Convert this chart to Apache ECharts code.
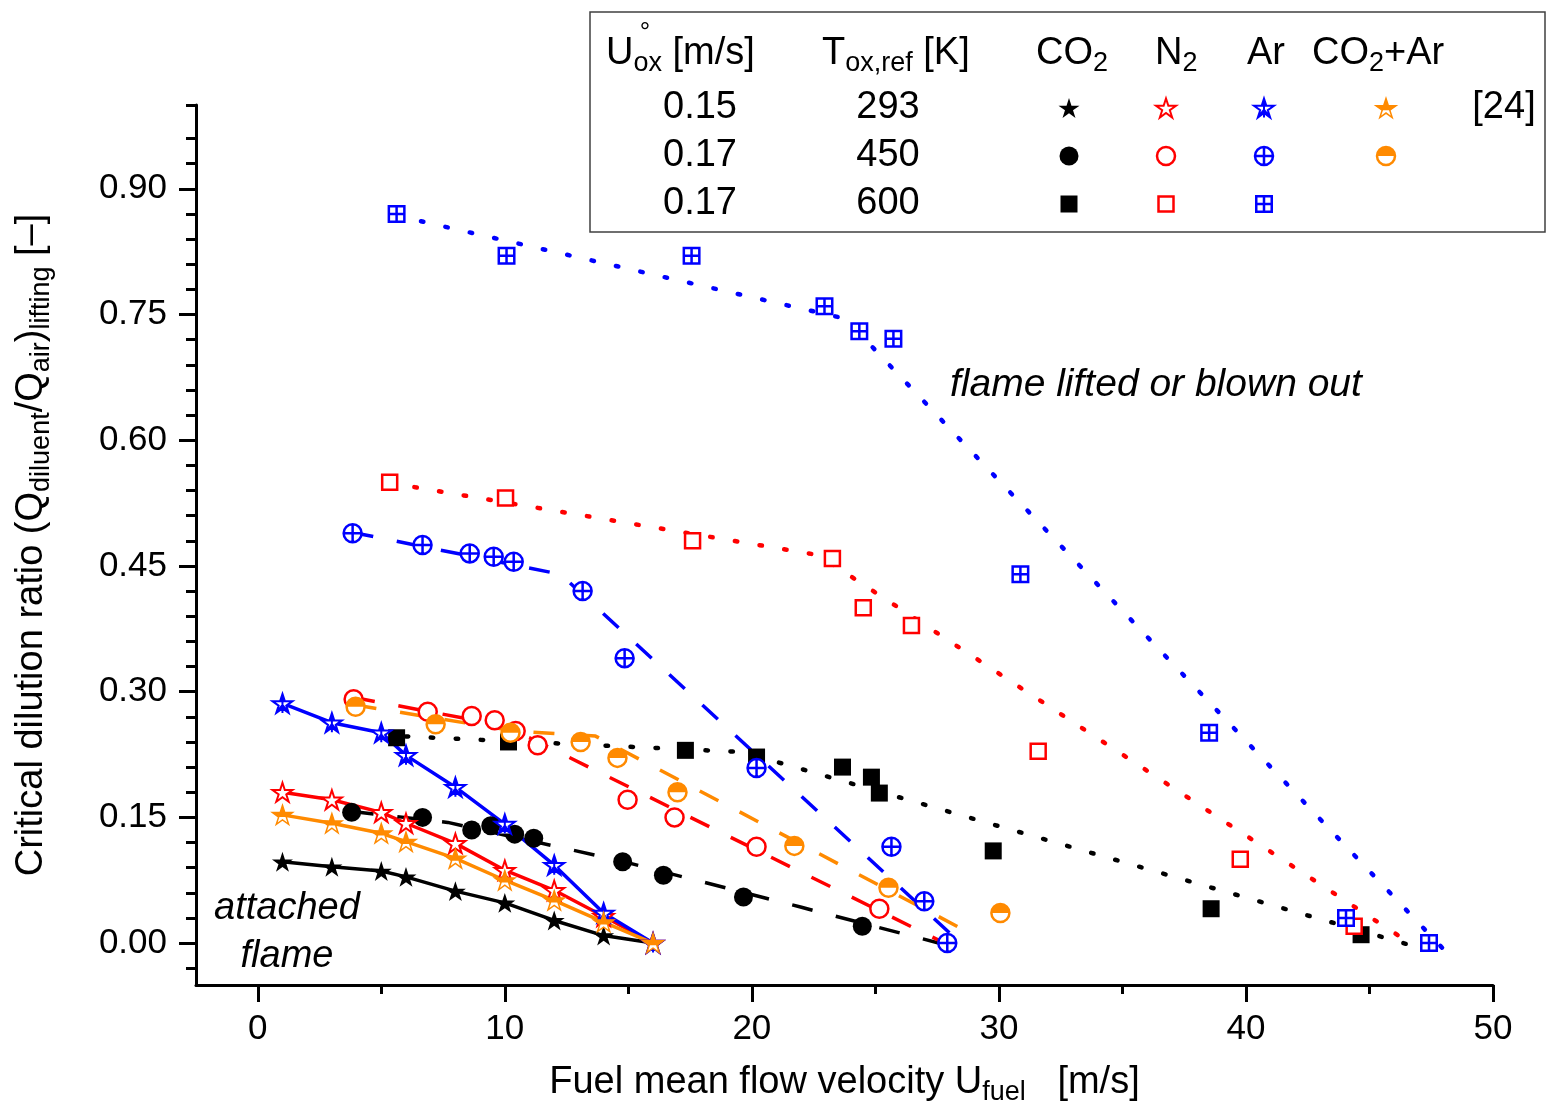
<!DOCTYPE html>
<html>
<head>
<meta charset="utf-8">
<script src="https://cdn.jsdelivr.net/npm/echarts@6.0.0/dist/echarts.min.js"></script>
<style>
  html, body { margin: 0; padding: 0; background: #fff; }
  #chart { width: 1546px; height: 1110px; }
</style>
</head>
<body>
<div id="chart"></div>
<script>
// ---------------- data ----------------
// T_ox,ref = 293 K  (U_ox = 0.15 m/s), data of [24]
const X_293      = [1, 3, 5, 6, 8, 10, 12, 14, 16];
const CO2_293    = [0.097, 0.091, 0.086, 0.079, 0.062, 0.048, 0.027, 0.009, 0.000];
const N2_293     = [0.180, 0.171, 0.156, 0.143, 0.119, 0.087, 0.063, 0.032, 0.000];
const AR_293     = [0.286, 0.263, 0.251, 0.224, 0.186, 0.142, 0.093, 0.036, 0.000];
const CO2AR_293  = [0.153, 0.143, 0.131, 0.121, 0.101, 0.075, 0.051, 0.025, 0.000];

// T_ox,ref = 450 K
const CO2_450_X  = [3.80, 6.67, 8.66, 9.43, 10.40, 11.17, 14.77, 16.42, 19.66, 24.47];
const CO2_450_Y  = [0.156, 0.150, 0.135, 0.140, 0.130, 0.125, 0.097, 0.081, 0.055, 0.020];
const N2_450_X   = [3.88, 6.88, 8.66, 9.59, 10.44, 11.33, 14.97, 16.87, 20.19, 25.16];
const N2_450_Y   = [0.291, 0.276, 0.271, 0.266, 0.253, 0.236, 0.171, 0.150, 0.115, 0.041];
const AR_450_X   = [3.84, 6.67, 8.58, 9.55, 10.36, 13.15, 14.85, 20.19, 25.65, 26.98, 27.91];
const AR_450_Y   = [0.489, 0.475, 0.465, 0.461, 0.455, 0.420, 0.340, 0.209, 0.115, 0.050, 0.000];
const CO2AR_450_X = [3.96, 7.20, 10.23, 13.07, 14.56, 16.99, 21.72, 25.53, 30.06];
const CO2AR_450_Y = [0.282, 0.261, 0.251, 0.240, 0.221, 0.180, 0.116, 0.066, 0.036];

// T_ox,ref = 600 K
const CO2_600_X  = [5.62, 10.15, 17.31, 20.19, 23.67, 24.84, 25.16, 29.77, 38.59, 44.66];
const CO2_600_Y  = [0.245, 0.240, 0.230, 0.222, 0.210, 0.198, 0.179, 0.110, 0.041, 0.010];
const N2_600_X   = [5.34, 10.03, 17.60, 23.26, 24.51, 26.46, 31.59, 39.77, 44.38];
const N2_600_Y   = [0.550, 0.531, 0.480, 0.459, 0.400, 0.379, 0.229, 0.100, 0.020];
const AR_600_X   = [5.62, 10.07, 17.56, 22.94, 24.35, 25.73, 30.87, 38.51, 44.05, 47.41];
const AR_600_Y   = [0.870, 0.820, 0.820, 0.760, 0.730, 0.721, 0.440, 0.251, 0.030, 0.000];

// trend lines drawn in the reference (nodes)
const CO2_450_FIT_X   = [3.84, 7.69, 14.57, 21.97, 27.83];
const CO2_450_FIT_Y   = [0.157, 0.144, 0.099, 0.043, -0.002];
const N2_450_FIT_X    = [3.90, 9.50, 11.00, 27.80];
const N2_450_FIT_Y    = [0.293, 0.262, 0.245, 0.000];
const AR_450_FIT_X    = [3.84, 10.76, 12.26, 28.52];
const AR_450_FIT_Y    = [0.490, 0.449, 0.440, -0.002];
const CO2AR_450_FIT_X = [3.96, 10.44, 13.67, 28.76];
const CO2AR_450_FIT_Y = [0.284, 0.253, 0.247, 0.013];
const CO2_600_FIT_X   = [4.98, 19.62, 46.84];
const CO2_600_FIT_Y   = [0.248, 0.228, -0.004];
const N2_600_FIT_X    = [5.34, 22.69, 46.84];
const N2_600_FIT_Y    = [0.549, 0.463, -0.004];
const AR_600_FIT_X    = [5.62, 23.79, 48.34];
const AR_600_FIT_Y    = [0.868, 0.745, -0.018];

// axis ticks
const X_MAJOR = [0, 10, 20, 30, 40, 50];
const X_MINOR = [5, 15, 25, 35, 45];
const Y_MAJOR = [0, 0.15, 0.30, 0.45, 0.60, 0.75, 0.90];
const Y_MINOR = [-0.03, 0.03, 0.06, 0.09, 0.12, 0.18, 0.21, 0.24, 0.27, 0.33, 0.36, 0.39, 0.42,
                 0.48, 0.51, 0.54, 0.57, 0.63, 0.66, 0.69, 0.72, 0.78, 0.81, 0.84, 0.87, 0.93, 0.96, 1.0];

// legend table text
const LEG_UOX  = ['0.15', '0.17', '0.17'];
const LEG_TOX  = ['293', '450', '600'];

// ---------------- styles ----------------
const FONT = "'Liberation Sans', Arial, Helvetica, sans-serif";
const BLACK = '#000000', RED = '#ff0000', BLUE = '#0000ff', ORANGE = '#ff8a00';

const P_STAR = 'M0,-10L2.245,-3.09L9.511,-3.09L3.633,1.18L5.878,8.09L0,3.82L-5.878,8.09L-3.633,1.18L-9.511,-3.09L-2.245,-3.09Z';
const P_STAR_ASTER = P_STAR + 'M0,-10L0,8.09M-9.511,-3.09L9.511,-3.09M-5.878,8.09L0,0.5L5.878,8.09';
const P_STAR_TOP = 'M-9.511,8.09L-9.511,8.09M0,-10L2.245,-3.09L9.511,-3.09L3.633,1.18L-3.633,1.18L-9.511,-3.09L-2.245,-3.09Z';
const P_CIRC = 'M10,0A10,10,0,1,1,-10,0A10,10,0,1,1,10,0Z';
const P_CPLUS = P_CIRC + 'M-10,0L10,0M0,-10L0,10';
const P_CTOP = 'M-10,10L-10,10M-10,0A10,10,0,0,1,10,0Z';
const P_SPLUS = 'M-10,-10L10,-10L10,10L-10,10ZM-10,0L10,0M0,-10L0,10';

// marker definitions: [symbol, size, fill, stroke, borderWidth]
const M = {
  co2_293:  ['path://' + P_STAR, 21, BLACK, BLACK, 0],
  co2_450:  ['circle', 19, BLACK, BLACK, 0],
  co2_600:  ['rect', 17, BLACK, BLACK, 0],
  n2_293:   ['path://' + P_STAR, 20, '#fff', RED, 2],
  n2_450:   ['circle', 18, '#fff', RED, 2.5],
  n2_600:   ['rect', 15, '#fff', RED, 2.5],
  ar_293:   ['path://' + P_STAR_ASTER, 20, '#fff', BLUE, 2],
  ar_450:   ['path://' + P_CPLUS, 18, '#fff', BLUE, 2.5],
  ar_600:   ['path://' + P_SPLUS, 15.5, '#fff', BLUE, 2.5],
  mix_293a: ['path://' + P_STAR, 20, '#fff', ORANGE, 1.5],
  mix_293b: ['path://' + P_STAR_TOP, 20, ORANGE, ORANGE, 0],
  mix_450a: ['circle', 18, '#fff', ORANGE, 2.5],
  mix_450b: ['path://' + P_CTOP, 18, ORANGE, ORANGE, 0]
};

function pts(xs, ys) { return xs.map((x, i) => [x, ys[i]]); }

function lineS(xs, ys, color, type, width, cap) {
  return {
    type: 'line', data: pts(xs, ys), symbol: 'none', silent: true, z: 2,
    lineStyle: { color: color, width: width, type: type, cap: cap || 'butt' },
    emphasis: { disabled: true }
  };
}
function scat(data, m, z, axisIdx) {
  return {
    type: 'scatter', data: data, symbol: m[0], symbolSize: m[1],
    symbolKeepAspect: true, silent: true, z: z,
    xAxisIndex: axisIdx || 0, yAxisIndex: axisIdx || 0,
    itemStyle: { color: m[2], borderColor: m[3], borderWidth: m[4], opacity: 1 },
    emphasis: { disabled: true }
  };
}
const DASH = [21, 24];
const DOT = [2.5, 22.5];
const LW = 3.5;

const series = [
  lineS(X_293, CO2_293, BLACK, 'solid', LW),
  lineS(X_293, N2_293, RED, 'solid', LW),
  lineS(X_293, AR_293, BLUE, 'solid', LW),
  lineS(X_293, CO2AR_293, ORANGE, 'solid', LW),
  lineS(CO2_450_FIT_X, CO2_450_FIT_Y, BLACK, DASH, LW),
  lineS(N2_450_FIT_X, N2_450_FIT_Y, RED, DASH, LW),
  lineS(AR_450_FIT_X, AR_450_FIT_Y, BLUE, DASH, LW),
  lineS(CO2AR_450_FIT_X, CO2AR_450_FIT_Y, ORANGE, DASH, LW),
  lineS(CO2_600_FIT_X, CO2_600_FIT_Y, BLACK, DOT, 4.5, 'round'),
  lineS(N2_600_FIT_X, N2_600_FIT_Y, RED, DOT, 4.5, 'round'),
  lineS(AR_600_FIT_X, AR_600_FIT_Y, BLUE, DOT, 4.5, 'round'),
  scat(pts(X_293, CO2_293), M.co2_293, 3),
  scat(pts(CO2_450_X, CO2_450_Y), M.co2_450, 3),
  scat(pts(CO2_600_X, CO2_600_Y), M.co2_600, 3),
  scat(pts(X_293, N2_293), M.n2_293, 4),
  scat(pts(N2_450_X, N2_450_Y), M.n2_450, 4),
  scat(pts(N2_600_X, N2_600_Y), M.n2_600, 4),
  scat(pts(X_293, AR_293), M.ar_293, 5),
  scat(pts(AR_450_X, AR_450_Y), M.ar_450, 5),
  scat(pts(AR_600_X, AR_600_Y), M.ar_600, 5),
  scat(pts(X_293, CO2AR_293), M.mix_293a, 6),
  scat(pts(X_293, CO2AR_293), M.mix_293b, 7),
  scat(pts(CO2AR_450_X, CO2AR_450_Y), M.mix_450a, 6),
  scat(pts(CO2AR_450_X, CO2AR_450_Y), M.mix_450b, 7)
];

// ---------------- legend table ----------------
// legend box drawn as a second (hidden) grid in pixel units
const LEG_BOX = { left: 590, top: 12, width: 955, height: 220 };
const LEG_COL = [479, 576, 674, 796];   // symbol column centres inside the box
const LEG_ROW = [96, 144, 192];         // symbol row centres inside the box
const legendMarks = [
  [M.co2_293, 0, 0], [M.n2_293, 1, 0], [M.ar_293, 2, 0], [M.mix_293a, 3, 0], [M.mix_293b, 3, 0],
  [M.co2_450, 0, 1], [M.n2_450, 1, 1], [M.ar_450, 2, 1], [M.mix_450a, 3, 1], [M.mix_450b, 3, 1],
  [M.co2_600, 0, 2], [M.n2_600, 1, 2], [M.ar_600, 2, 2]
];
legendMarks.forEach((e, i) => {
  series.push(scat([[LEG_COL[e[1]], LEG_ROW[e[2]]]], e[0], 20 + i, 2));
});

const RICH = {
  m: { fontSize: 38, lineHeight: 46, verticalAlign: 'middle', fontFamily: FONT, color: '#000' },
  s: { fontSize: 27, lineHeight: 22, verticalAlign: 'bottom', fontFamily: FONT, color: '#000' }
};
const TICK_FONT = 35;

function gText(x, y, text, opts) {
  opts = opts || {};
  const st = {
    text: text, fill: '#000', fontFamily: FONT,
    fontSize: opts.fontSize || 38, fontStyle: opts.italic ? 'italic' : 'normal',
    align: opts.align || 'left', verticalAlign: 'middle'
  };
  if (opts.rich) st.rich = RICH;
  return { type: 'text', x: x, y: y, z: 100, silent: true, style: st };
}
const graphic = [
  { type: 'rect', z: 0, silent: true,
    shape: { x: LEG_BOX.left, y: LEG_BOX.top, width: LEG_BOX.width, height: LEG_BOX.height },
    style: { fill: '#fff', stroke: '#404040', lineWidth: 1.5 } },
  gText(606, 54, '{m|U}{s|ox}{m| [m/s]}', { rich: true }),
  gText(645, 33, '°', { fontSize: 26, align: 'center' }),
  gText(822, 54, '{m|T}{s|ox,ref}{m| [K]}', { rich: true }),
  gText(1036, 54, '{m|CO}{s|2}', { rich: true }),
  gText(1155, 54, '{m|N}{s|2}', { rich: true }),
  gText(1247, 54, '{m|Ar}', { rich: true }),
  gText(1312, 54, '{m|CO}{s|2}{m|+Ar}', { rich: true }),
  gText(1504, 108, '[24]', { align: 'center' }),
  gText(950, 385, 'flame lifted or blown out', { fontSize: 39, italic: true }),
  gText(287, 908, 'attached', { fontSize: 38, italic: true, align: 'center' }),
  gText(287, 956, 'flame', { fontSize: 38, italic: true, align: 'center' })
];
LEG_UOX.forEach((t, i) => graphic.push(gText(700, 108 + 48 * i, t, { align: 'center' })));
LEG_TOX.forEach((t, i) => graphic.push(gText(888, 108 + 48 * i, t, { align: 'center' })));

// ---------------- chart ----------------
const axisLineStyle = { color: '#000', width: 3 };
const hiddenAxis = { show: false, axisLine: { show: false }, axisTick: { show: false }, axisLabel: { show: false }, splitLine: { show: false } };
const option = {
  backgroundColor: '#ffffff',
  animation: false,
  tooltip: { show: false },
  grid: [
    { left: 196, right: 53, top: 105, bottom: 125, containLabel: false, outerBoundsMode: 'none' },
    { left: LEG_BOX.left, top: LEG_BOX.top, width: LEG_BOX.width, height: LEG_BOX.height, containLabel: false, outerBoundsMode: 'none' }
  ],
  xAxis: [
    {
      type: 'value', min: -2.5, max: 50, position: 'bottom', gridIndex: 0,
      axisLine: { show: true, onZero: false, lineStyle: axisLineStyle },
      axisTick: { show: true, inside: false, length: 17, customValues: X_MAJOR, lineStyle: { color: '#000', width: 3 } },
      axisLabel: { show: true, customValues: X_MAJOR, margin: 27, fontSize: TICK_FONT, fontFamily: FONT, color: '#000' },
      splitLine: { show: false },
      name: '{m|Fuel mean flow velocity U}{s|fuel}{m|   [m/s]}',
      nameLocation: 'middle', nameGap: 75,
      nameTextStyle: { fontSize: 38, fontFamily: FONT, color: '#000', rich: RICH }
    },
    {
      type: 'value', min: -2.5, max: 50, position: 'bottom', gridIndex: 0,
      axisLine: { show: false, onZero: false },
      axisTick: { show: true, inside: false, length: 9, customValues: X_MINOR, lineStyle: { color: '#000', width: 3 } },
      axisLabel: { show: false },
      splitLine: { show: false }
    },
    Object.assign({ type: 'value', min: 0, max: LEG_BOX.width, gridIndex: 1 }, hiddenAxis)
  ],
  yAxis: [
    {
      type: 'value', min: -0.05, max: 1.0, position: 'left', gridIndex: 0,
      axisLine: { show: true, onZero: false, lineStyle: axisLineStyle },
      axisTick: { show: true, inside: false, length: 17, customValues: Y_MAJOR, lineStyle: { color: '#000', width: 3 } },
      axisLabel: { show: true, customValues: Y_MAJOR, margin: 29, fontSize: TICK_FONT, fontFamily: FONT, color: '#000',
                   formatter: v => Number(v).toFixed(2) },
      splitLine: { show: false },
      name: '{m|Critical dilution ratio (Q}{s|diluent}{m|/Q}{s|air}{m|)}{s|lifting}{m| [\u2013]}',
      nameLocation: 'middle', nameGap: 141, nameRotate: 90,
      nameTextStyle: { fontSize: 38, fontFamily: FONT, color: '#000', rich: RICH }
    },
    {
      type: 'value', min: -0.05, max: 1.0, position: 'left', gridIndex: 0,
      axisLine: { show: false, onZero: false },
      axisTick: { show: true, inside: false, length: 10, customValues: Y_MINOR, lineStyle: { color: '#000', width: 3 } },
      axisLabel: { show: false },
      splitLine: { show: false }
    },
    Object.assign({ type: 'value', min: 0, max: LEG_BOX.height, inverse: true, gridIndex: 1 }, hiddenAxis)
  ],
  series: series,
  graphic: graphic
};

const chart = echarts.init(document.getElementById('chart'), null, { renderer: 'canvas' });
chart.setOption(option);
</script>
</body>
</html>
